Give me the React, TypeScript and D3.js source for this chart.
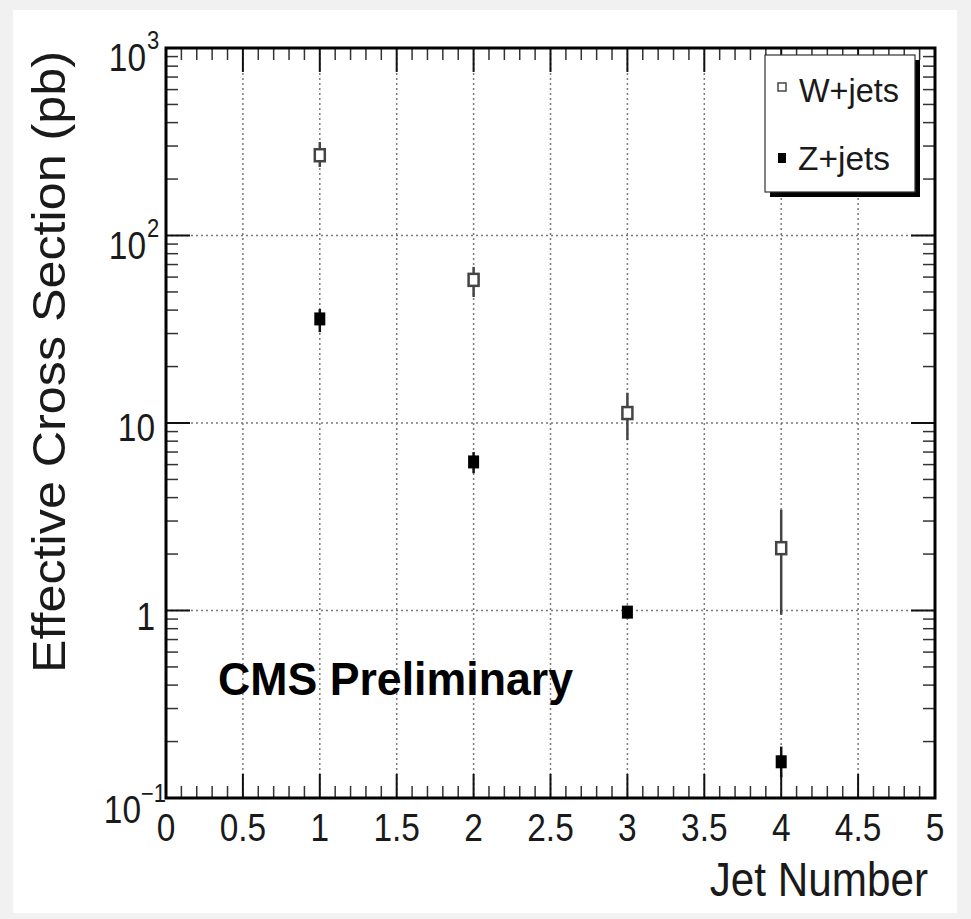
import React from "react";
import * as d3 from "d3";

// ---- data ----
const jetNumbers = [1, 2, 3, 4];
const wValues = [268, 58, 11.3, 2.15];
const wErrLow = [232, 47, 8.1, 0.95];
const wErrHigh = [315, 68, 14.5, 3.45];
const zValues = [35.9, 6.2, 0.98, 0.156];
const zErrLow = [30.5, 5.4, 0.91, 0.129];
const zErrHigh = [40.5, 7.0, 1.06, 0.188];
const xTickLabels = ["0", "0.5", "1", "1.5", "2", "2.5", "3", "3.5", "4", "4.5", "5"];
const yDecades = [0.1, 1, 10, 100, 1000];
const legendLabels = ["W+jets", "Z+jets"];

const FONT = "'Liberation Sans', Arial, Helvetica, sans-serif";

export default function App() {
  const W = 971;
  const H = 919;
  const left = 166, right = 935, top = 48, bottom = 798;
  const x = d3.scaleLinear().domain([0, 5]).range([left, right]);
  const y = d3.scaleLog().domain([0.1, 1000]).range([bottom, top]);

  const xMinor = d3.range(0, 51).map((i) => i / 10).filter((v) => Math.abs(v * 2 - Math.round(v * 2)) > 1e-6);
  const xMajor = d3.range(0, 11).map((i) => i / 2);
  const yMinor: number[] = [];
  for (let d = 0; d < 4; d++) {
    for (let k = 2; k <= 9; k++) yMinor.push(yDecades[d] * k);
  }
  const gridX = xMajor.filter((v) => v > 0 && v < 5);
  const gridY = yDecades.filter((v) => v > 0.1 && v < 1000);

  const majorLen = 24, minorLen = 12;
  const sx = 0.88;

  const yLabel = (v: number) => {
    const yy = y(v);
    if (v === 10) {
      return (
        <text key={v} transform={`translate(155,${yy + 18}) scale(${sx},1)`} textAnchor="end" fontSize={38}>10</text>
      );
    }
    if (v === 1) {
      return (
        <text key={v} transform={`translate(155,${yy + 19}) scale(${sx},1)`} textAnchor="end" fontSize={38}>1</text>
      );
    }
    if (v === 0.1) {
      return (
        <g key={v}>
          <text transform={`translate(141,${yy + 25}) scale(${sx},1)`} textAnchor="end" fontSize={38}>10</text>
          <text transform={`translate(141,${yy + 4}) scale(${sx},1)`} textAnchor="start" fontSize={25}>−1</text>
        </g>
      );
    }
    const exp = Math.round(Math.log10(v));
    return (
      <g key={v}>
        <text transform={`translate(146,${yy + 23}) scale(${sx},1)`} textAnchor="end" fontSize={38}>10</text>
        <text transform={`translate(147,${yy + 1}) scale(${sx},1)`} textAnchor="start" fontSize={25}>{String(exp)}</text>
      </g>
    );
  };

  return (
    <svg width={W} height={H} style={{ position: "absolute", left: 0, top: 0 }} fontFamily={FONT}>
      <rect x={0} y={0} width={W} height={H} fill="#f1f1f1" />
      <rect x={13} y={10} width={944} height={903} fill="#ffffff" />

      {/* grid */}
      {gridX.map((v) => (
        <line key={"gx" + v} x1={x(v)} x2={x(v)} y1={top} y2={bottom} stroke="#7a7a7a" strokeWidth={1.5} strokeDasharray="2,3" />
      ))}
      {gridY.map((v) => (
        <line key={"gy" + v} x1={left} x2={right} y1={y(v)} y2={y(v)} stroke="#7a7a7a" strokeWidth={1.5} strokeDasharray="2,3" />
      ))}

      {/* x ticks bottom & top */}
      {xMinor.map((v) => (
        <g key={"xm" + v} stroke="#333" strokeWidth={1.5}>
          <line x1={x(v)} x2={x(v)} y1={bottom} y2={bottom - minorLen} />
          <line x1={x(v)} x2={x(v)} y1={top} y2={top + minorLen} />
        </g>
      ))}
      {xMajor.map((v) => (
        <g key={"xM" + v} stroke="#111" strokeWidth={2}>
          <line x1={x(v)} x2={x(v)} y1={bottom} y2={bottom - majorLen} />
          <line x1={x(v)} x2={x(v)} y1={top} y2={top + majorLen} />
        </g>
      ))}
      {/* y ticks left & right */}
      {yMinor.map((v) => (
        <g key={"ym" + v} stroke="#333" strokeWidth={1.5}>
          <line x1={left} x2={left + minorLen} y1={y(v)} y2={y(v)} />
          <line x1={right} x2={right - minorLen} y1={y(v)} y2={y(v)} />
        </g>
      ))}
      {yDecades.map((v) => (
        <g key={"yM" + v} stroke="#111" strokeWidth={2}>
          <line x1={left} x2={left + majorLen} y1={y(v)} y2={y(v)} />
          <line x1={right} x2={right - majorLen} y1={y(v)} y2={y(v)} />
        </g>
      ))}

      {/* frame */}
      <rect x={left} y={top} width={right - left} height={bottom - top} fill="none" stroke="#000" strokeWidth={3} />

      {/* error bars */}
      {jetNumbers.map((j, i) => (
        <line key={"we" + j} x1={x(j)} x2={x(j)} y1={y(wErrLow[i])} y2={y(wErrHigh[i])} stroke="#444" strokeWidth={2.5} />
      ))}
      {jetNumbers.map((j, i) => (
        <line key={"ze" + j} x1={x(j)} x2={x(j)} y1={y(zErrLow[i])} y2={y(zErrHigh[i])} stroke="#111" strokeWidth={2.5} />
      ))}
      {/* markers */}
      {jetNumbers.map((j, i) => (
        <rect key={"wm" + j} x={x(j) - 5} y={y(wValues[i]) - 6} width={10} height={12} fill="#fff" stroke="#444" strokeWidth={2.5} />
      ))}
      {jetNumbers.map((j, i) => (
        <rect key={"zm" + j} x={x(j) - 5.5} y={y(zValues[i]) - 6.5} width={11} height={13} fill="#000" />
      ))}

      {/* tick labels */}
      {xMajor.map((v, i) => (
        <text key={"xl" + v} transform={`translate(${x(v)},841) scale(${sx},1)`} textAnchor="middle" fontSize={38} fill="#1a1a1a">
          {xTickLabels[i]}
        </text>
      ))}
      <g fill="#1a1a1a">{yDecades.map((v) => yLabel(v))}</g>

      {/* axis titles */}
      <text transform={`translate(928,896) scale(${sx},1)`} textAnchor="end" fontSize={48} fill="#1a1a1a">Jet Number</text>
      <text transform="translate(65,673) rotate(-90)" textAnchor="start" fontSize={46} textLength={622} lengthAdjust="spacingAndGlyphs" fill="#1a1a1a">
        Effective Cross Section (pb)
      </text>

      {/* CMS label */}
      <text x={218} y={695} fontSize={46} fontWeight="bold" textLength={355} lengthAdjust="spacingAndGlyphs" fill="#000">CMS Preliminary</text>

      {/* legend */}
      <rect x={770} y={60} width={150} height={137} fill="#000" />
      <rect x={765} y={55} width={150} height={137} fill="#fff" stroke="#333" strokeWidth={1.2} />
      <rect x={778} y={83} width={8} height={8} fill="#fff" stroke="#444" strokeWidth={1.5} />
      <text x={799} y={102} fontSize={34} textLength={100} lengthAdjust="spacingAndGlyphs" fill="#1a1a1a">{legendLabels[0]}</text>
      <rect x={778} y={153} width={8} height={10} fill="#000" />
      <text x={798} y={170} fontSize={34} textLength={92} lengthAdjust="spacingAndGlyphs" fill="#1a1a1a">{legendLabels[1]}</text>
    </svg>
  );
}
